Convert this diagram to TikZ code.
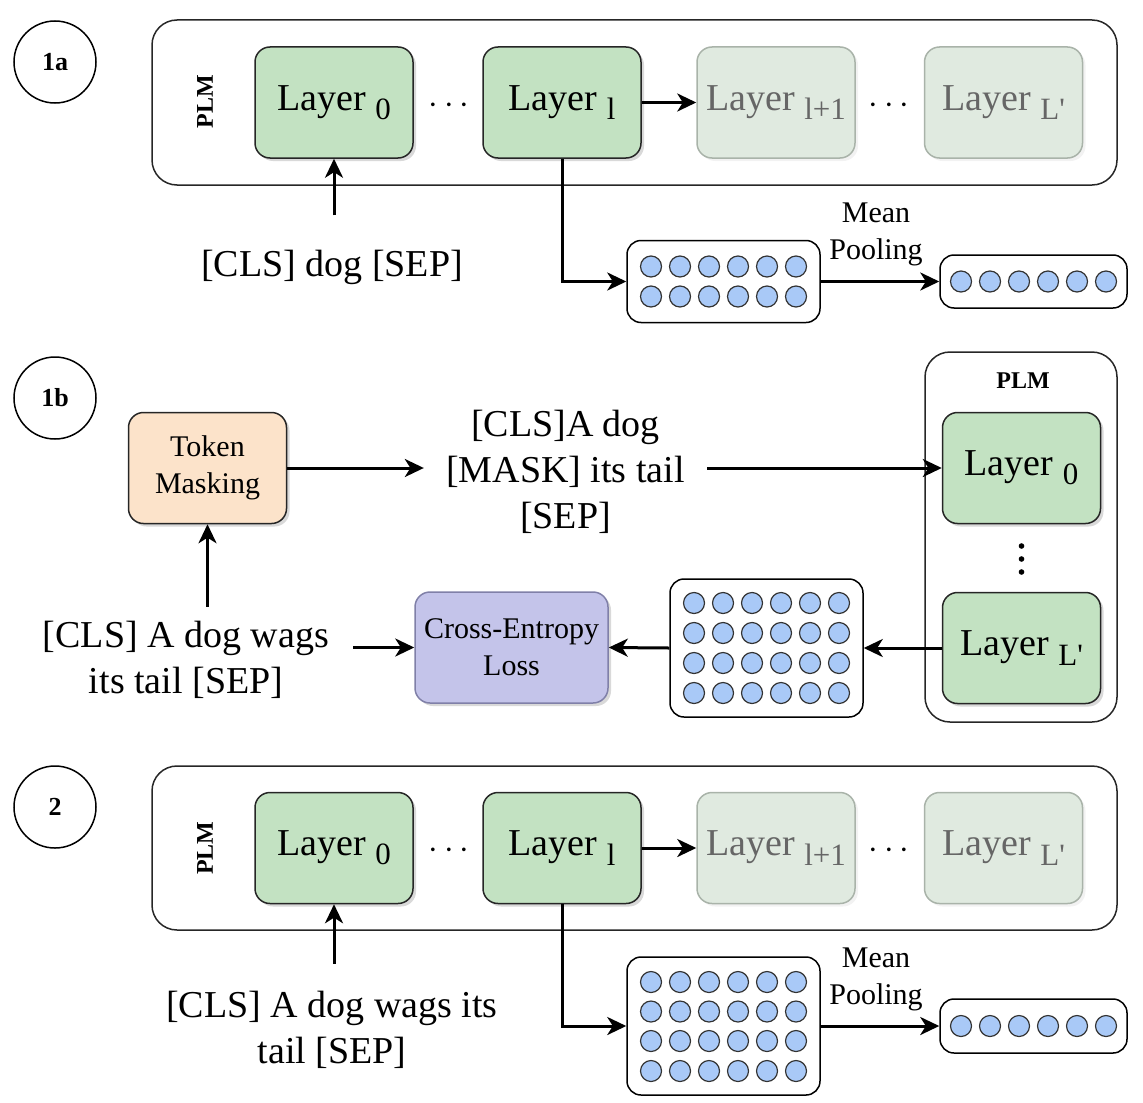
\documentclass[tikz,border=0pt]{standalone}
\usepackage{fontspec}
\setmainfont{Liberation Serif}
\usepackage{tikz}
\usetikzlibrary{arrows.meta,shadows,calc}
\definecolor{layergreen}{HTML}{C3E2C2}
\definecolor{fadegreen}{HTML}{E0EAE0}
\definecolor{fadeline}{HTML}{A9B3A9}
\definecolor{maskpeach}{HTML}{FCE3CA}
\definecolor{losslav}{HTML}{C4C4EA}
\definecolor{lossline}{HTML}{8080A8}
\definecolor{vecblue}{HTML}{A9C9F7}
\newcommand{\bigtxt}{\fontsize{19}{23}\selectfont}
\newcommand{\smalltxt}{\fontsize{15}{18.5}\selectfont}
\newcommand{\lsub}[1]{\raisebox{-0.24em}{\fontsize{15.5}{15.5}\selectfont #1}}
\tikzset{%
  tipA/.tip={Stealth[length=9.5pt,width=9pt,inset=2.8pt]},
  arr/.style={line width=1.5pt,-tipA},
  boxbase/.style={line width=0.75pt,rounded corners=7.5pt,minimum width=79pt,minimum height=55.5pt,align=center},
  layerbox/.style={boxbase,draw=black!85,fill=layergreen,font=\bigtxt,
    drop shadow={shadow xshift=1.5pt,shadow yshift=-1.5pt,opacity=0.3}},
  farbox/.style={boxbase,draw=fadeline,fill=fadegreen,text=black!60,font=\bigtxt,
    drop shadow={shadow xshift=1.5pt,shadow yshift=-1.5pt,opacity=0.1}},
  plmbox/.style={draw=black!85,line width=0.75pt,rounded corners=12.5pt},
  plmtag/.style={font=\bfseries\fontsize{12}{14}\selectfont},
  stepnum/.style={circle,draw,line width=0.75pt,minimum size=41pt,font=\bfseries\fontsize{13}{15}\selectfont},
  vecbox/.style={draw,line width=0.75pt,rounded corners=7pt,fill=white},
  dot/.style={draw=black!80,line width=0.6pt,fill=vecblue},
  seq/.style={font=\bigtxt,align=center,inner sep=0pt},
  pool/.style={font=\smalltxt,align=center,inner sep=0pt}
}

\begin{document}
\begin{tikzpicture}[x=0.5pt,y=-0.5pt]
\useasboundingbox (0,0) rectangle (1143,1102);
% --- 1a ---
\node[stepnum] (n1a) at (55,62) {1a};
\node[plmbox,minimum width=482.5pt,minimum height=82.5pt] (plma) at (634.5,102.5) {};
\node[plmtag,rotate=90] (tga) at (205,102) {PLM};
\node[layerbox] (l0a) at (334,102.5) {Layer \lsub{0}};
\node[font=\bigtxt] (da1) at (449,106) {$\cdots$};
\node[layerbox] (lla) at (562,102.5) {Layer \lsub{l}};
\node[farbox] (lpa) at (776,102.5) {Layer \lsub{l+1}};
\node[font=\bigtxt] (da2) at (889,106) {$\cdots$};
\node[farbox] (lLa) at (1003.5,102.5) {Layer \lsub{L\textquotesingle}};
\node[seq,inner ysep=17pt] (t1a) at (332,267) {[CLS] dog [SEP]};
\node[vecbox,minimum width=96.5pt,minimum height=41pt] (m1a) at (723.5,281.5) {};
\node[vecbox,minimum width=93.5pt,minimum height=26.5pt] (v1a) at (1033.5,281.5) {};
\foreach \dx in {-72.5,-43.5,-14.5,14.5,43.5,72.5} {
  \foreach \dy in {-15,15}
    \filldraw[dot] ($(m1a)+(\dx,\dy)$) circle[radius=5.25pt];
  \filldraw[dot] ($(v1a)+(\dx,0)$) circle[radius=5.25pt];
}
\draw[arr] (l0a.south |- t1a.north) -- (l0a.south);
\draw[arr] (lla.east) -- (lpa.west);
\draw[arr] (lla.south) |- (m1a.west);
\draw[arr] (m1a.east) -- node[pool,above=7pt,xshift=-2pt] (mpa) {Mean\\Pooling} (v1a.west);
% --- 1b ---
\node[stepnum] (n1b) at (55,398) {1b};
\node[plmbox,minimum width=96pt,minimum height=185pt] (plmb) at (1021,537) {};
\node[plmtag] (tgb) at (1023,381) {PLM};
\node[layerbox] (l0b) at (1021.5,468) {Layer \lsub{0}};
\foreach \vy in {546,559,572}
  \fill (1021.5,\vy) circle[radius=1.4pt];
\node[layerbox] (lLb) at (1021.5,648) {Layer \lsub{L\textquotesingle}};
\node[boxbase,draw=black!85,fill=maskpeach,font=\smalltxt,
  drop shadow={shadow xshift=1.5pt,shadow yshift=-1.5pt,opacity=0.3}] (tok) at (207.5,468) {Token\\Masking};
\node[seq,inner xsep=11pt] (msk) at (565.5,472) {[CLS]A dog\\{}[MASK] its tail\\{}[SEP]};
\node[boxbase,draw=lossline,fill=losslav,font=\smalltxt,minimum width=96.5pt,
  drop shadow={shadow xshift=1.5pt,shadow yshift=-1.5pt,opacity=0.3}] (ce) at (511.5,647.5) {Cross-Entropy\\Loss};
\node[vecbox,minimum width=96.5pt,minimum height=69pt] (m1b) at (766.5,648) {};
\foreach \dx in {-72.5,-43.5,-14.5,14.5,43.5,72.5}
  \foreach \dy in {-45,-15,15,45}
    \filldraw[dot] ($(m1b)+(\dx,\dy)$) circle[radius=5.25pt];
\node[seq,inner xsep=12pt,inner ysep=7pt] (t1b) at (186,660) {[CLS] A dog wags\\its tail [SEP]};
\draw[arr] (t1b.north -| tok.south) -- (tok.south);
\draw[arr] (tok.east) -- (tok.east -| msk.west);
\draw[arr] (msk.east |- l0b.west) -- (l0b.west);
\draw[arr] (lLb.west) -- (m1b.east);
\draw[arr] (m1b.west) -- (ce.east);
\draw[arr] (t1b.east |- ce.west) -- (ce.west);
% --- 2 ---
\node[stepnum] (n2) at (55,807) {2};
\node[plmbox,minimum width=482.5pt,minimum height=82pt] (plmc) at (634.5,848) {};
\node[plmtag,rotate=90] (tgc) at (205,848) {PLM};
\node[layerbox] (l0c) at (334,848) {Layer \lsub{0}};
\node[font=\bigtxt] (dc1) at (449,851) {$\cdots$};
\node[layerbox] (llc) at (562,848) {Layer \lsub{l}};
\node[farbox] (lpc) at (776,848) {Layer \lsub{l+1}};
\node[font=\bigtxt] (dc2) at (889,851) {$\cdots$};
\node[farbox] (lLc) at (1003.5,848) {Layer \lsub{L\textquotesingle}};
\node[seq,inner ysep=13.5pt] (t2) at (332,1030) {[CLS] A dog wags its\\tail [SEP]};
\node[vecbox,minimum width=96.5pt,minimum height=69pt] (m2) at (723.5,1026) {};
\node[vecbox,minimum width=93.5pt,minimum height=27pt] (v2) at (1033.5,1026) {};
\foreach \dx in {-72.5,-43.5,-14.5,14.5,43.5,72.5} {
  \foreach \dy in {-44,-14.5,15,45}
    \filldraw[dot] ($(m2)+(\dx,\dy)$) circle[radius=5.25pt];
  \filldraw[dot] ($(v2)+(\dx,0)$) circle[radius=5.25pt];
}
\draw[arr] (l0c.south |- t2.north) -- (l0c.south);
\draw[arr] (llc.east) -- (lpc.west);
\draw[arr] (llc.south) |- (m2.west);
\draw[arr] (m2.east) -- node[pool,above=7pt,xshift=-2pt] (mpc) {Mean\\Pooling} (v2.west);
\end{tikzpicture}
\end{document}
